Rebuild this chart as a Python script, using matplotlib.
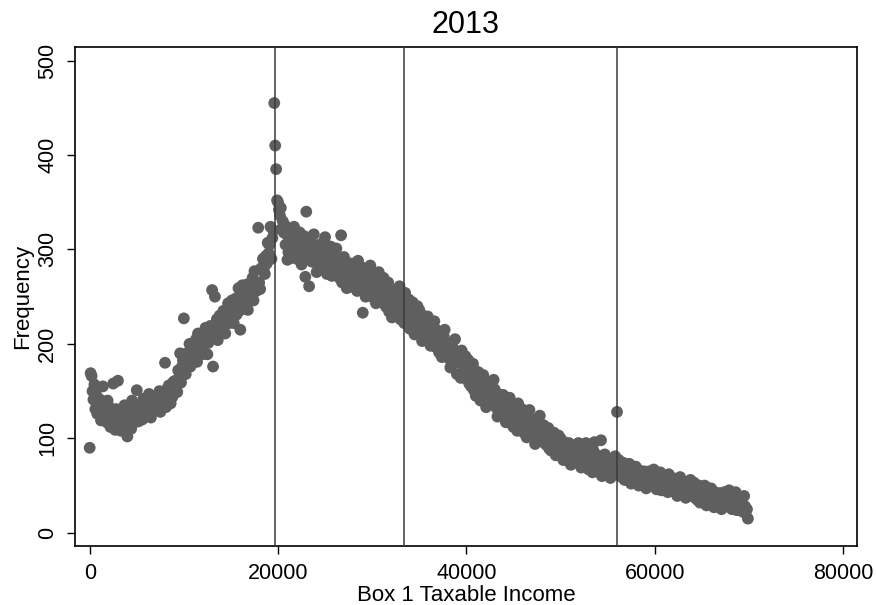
import numpy as np
import matplotlib
matplotlib.use('Agg')
import matplotlib.pyplot as plt

plt.rcParams['font.family'] = ['Liberation Sans', 'DejaVu Sans']

# bin start (step 100) -> frequency, one row per 1000 of income
income_start = 0
income_step = 100
freq_rows = [
    [90, 169, 166, 150, 141, 157, 131, 146, 126, 138],
    [128, 141, 119, 135, 155, 124, 137, 130, 117, 140],
    [122, 133, 112, 128, 119, 158, 126, 109, 131, 120],
    [161, 115, 124, 108, 130, 118, 121, 135, 112, 126],
    [102, 127, 119, 114, 110, 140, 123, 131, 117, 125],
    [151, 122, 118, 129, 135, 124, 120, 142, 131, 127],
    [130, 125, 138, 147, 128, 122, 136, 140, 129, 133],
    [134, 131, 145, 140, 150, 128, 137, 132, 143, 148],
    [180, 133, 152, 148, 156, 145, 137, 153, 144, 160],
    [152, 161, 156, 149, 172, 171, 190, 159, 176, 183],
    [227, 174, 168, 190, 176, 189, 200, 176, 196, 191],
    [181, 196, 196, 205, 181, 211, 197, 190, 194, 209],
    [189, 205, 200, 217, 212, 189, 201, 210, 219, 205],
    [257, 176, 206, 250, 218, 226, 204, 222, 230, 212],
    [222, 213, 235, 228, 211, 222, 235, 243, 222, 230],
    [239, 246, 230, 222, 238, 248, 231, 239, 259, 235],
    [215, 254, 262, 238, 245, 237, 253, 263, 236, 259],
    [246, 261, 261, 270, 246, 277, 263, 256, 260, 323],
    [265, 258, 280, 278, 290, 280, 274, 293, 285, 307],
    [296, 305, 324, 290, 312, 320, 455, 410, 385, 352],
    [350, 342, 336, 344, 322, 330, 318, 326, 305, 316],
    [289, 297, 320, 312, 291, 303, 316, 324, 299, 306],
    [290, 307, 300, 318, 311, 284, 296, 305, 314, 271],
    [340, 312, 292, 261, 298, 308, 287, 295, 316, 289],
    [286, 276, 299, 294, 305, 291, 281, 301, 289, 309],
    [313, 283, 274, 297, 279, 291, 303, 272, 293, 286],
    [279, 293, 301, 273, 280, 270, 287, 315, 265, 289],
    [292, 277, 269, 259, 286, 283, 272, 263, 279, 285],
    [260, 276, 274, 283, 256, 288, 271, 262, 265, 281],
    [233, 279, 259, 250, 265, 275, 254, 262, 283, 256],
    [260, 249, 272, 264, 243, 255, 268, 276, 251, 258],
    [248, 262, 270, 242, 249, 239, 256, 265, 234, 258],
    [238, 228, 251, 246, 257, 243, 233, 253, 241, 261],
    [226, 242, 240, 249, 222, 254, 237, 228, 231, 247],
    [216, 233, 226, 244, 237, 210, 222, 231, 240, 224],
    [236, 221, 213, 203, 230, 227, 216, 207, 223, 229],
    [221, 206, 198, 219, 203, 214, 224, 197, 215, 209],
    [201, 191, 212, 204, 186, 196, 208, 215, 193, 199],
    [195, 201, 184, 175, 189, 198, 179, 186, 205, 181],
    [168, 182, 181, 189, 164, 193, 178, 170, 173, 187],
    [163, 176, 183, 158, 164, 155, 170, 179, 151, 172],
    [145, 160, 154, 170, 164, 140, 151, 159, 167, 152],
    [142, 133, 153, 149, 159, 146, 137, 155, 144, 162],
    [152, 139, 132, 123, 147, 144, 134, 126, 141, 146],
    [140, 125, 117, 138, 122, 133, 143, 116, 134, 128],
    [112, 126, 125, 133, 108, 137, 122, 114, 117, 131],
    [116, 106, 127, 119, 101, 111, 123, 130, 108, 114],
    [114, 120, 103, 94, 108, 117, 98, 105, 124, 100],
    [99, 109, 114, 95, 100, 93, 105, 111, 89, 106],
    [87, 99, 94, 106, 101, 82, 91, 97, 103, 92],
    [100, 90, 84, 77, 96, 94, 86, 80, 91, 95],
    [79, 72, 88, 84, 92, 82, 75, 89, 81, 95],
    [86, 75, 69, 85, 72, 81, 89, 95, 82, 77],
    [67, 78, 77, 83, 64, 87, 96, 68, 70, 82],
    [71, 64, 80, 98, 60, 68, 77, 83, 65, 70],
    [74, 78, 65, 58, 69, 76, 61, 67, 81, 62],
    [128, 73, 77, 61, 65, 59, 69, 74, 56, 70],
    [56, 66, 62, 73, 68, 52, 59, 65, 70, 61],
    [70, 61, 56, 50, 66, 64, 58, 52, 62, 65],
    [53, 47, 61, 58, 65, 56, 50, 62, 55, 67],
    [61, 52, 46, 60, 49, 56, 64, 45, 58, 53],
    [45, 55, 53, 59, 43, 62, 52, 46, 48, 58],
    [49, 43, 56, 52, 39, 46, 54, 59, 44, 48],
    [50, 54, 42, 37, 46, 52, 39, 44, 56, 40],
    [40, 49, 53, 37, 41, 35, 45, 50, 32, 46],
    [33, 43, 39, 50, 45, 29, 36, 42, 47, 38],
    [47, 38, 33, 27, 43, 41, 35, 29, 39, 42],
    [31, 25, 39, 36, 43, 34, 28, 40, 33, 45],
    [40, 31, 25, 39, 28, 35, 43, 24, 37, 32],
    [24, 34, 32, 37, 22, 39, 28, 23, 25, 15],
]
freq = np.concatenate([np.array(r) for r in freq_rows])
income = income_start + income_step * np.arange(len(freq))

# tax bracket thresholds 2013
brackets = [19645, 33363, 55991]

xticks = [0, 20000, 40000, 60000, 80000]
yticks = [0, 100, 200, 300, 400, 500]

fig = plt.figure(figsize=(8.76, 6.05), dpi=100)
ax = fig.add_axes([0.0853, 0.0975, 0.893, 0.8243])

ax.scatter(income, freq, s=72, color='#5f5f5f', edgecolors='none', zorder=2)
for b in brackets:
    ax.axvline(b, color='#3a3a3a', lw=1.1, zorder=3)

ax.set_xlim(-1590, 81485)
ax.set_ylim(-14, 514)
ax.set_xticks(xticks)
ax.set_yticks(yticks)
ax.set_xticklabels([str(v) for v in xticks])
ax.set_yticklabels([str(v) for v in yticks], rotation=90, va='center')
ax.tick_params(direction='out', length=6, width=1.0, labelsize=15.5, pad=6)

for sp in ax.spines.values():
    sp.set_linewidth(1.2)

ax.set_title('2013', fontsize=22, pad=10)
ax.set_xlabel('Box 1 Taxable Income', fontsize=16, labelpad=1)
ax.set_ylabel('Frequency', fontsize=16, labelpad=3)

fig.savefig('out.png', dpi=100)
